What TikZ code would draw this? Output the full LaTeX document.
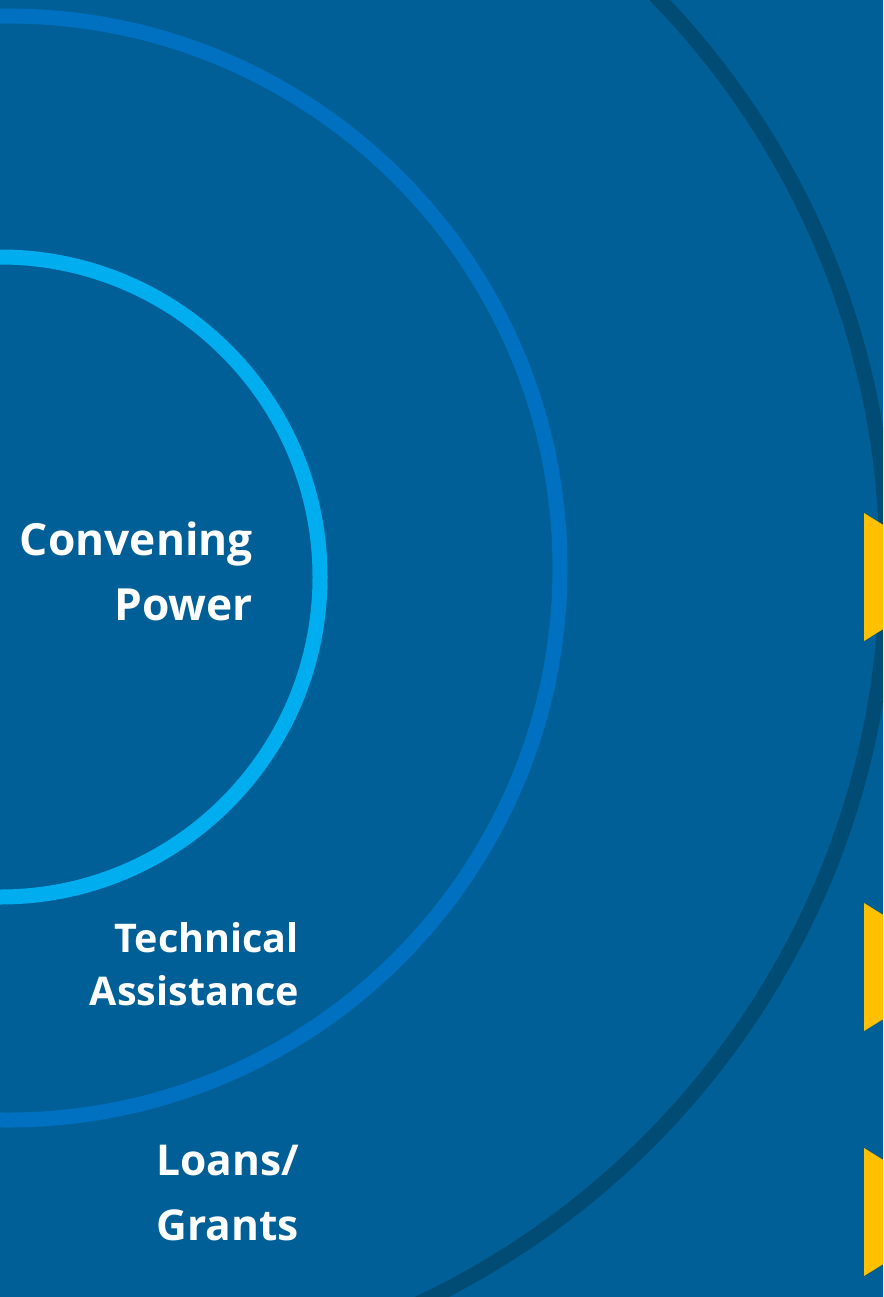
\documentclass[tikz,border=0pt]{standalone}
\usepackage{fontspec}
\setmainfont{Open Sans}
\usepackage{xcolor}
\definecolor{bgblue}{HTML}{005F96}
\definecolor{ringdark}{HTML}{004C74}
\definecolor{ringmid}{HTML}{0070C0}
\definecolor{ringlight}{HTML}{00AEEF}
\definecolor{arrowyellow}{HTML}{FFC000}
\tikzset{
    ringlabel/.style={text=white, align=right, inner sep=0pt, anchor=base east}
}
\begin{document}
\begin{tikzpicture}[x=1pt,y=-1pt]
    \useasboundingbox (0,0) rectangle (883,1297);
    \fill[bgblue] (0,0) rectangle (883,1297);
    \clip (0,0) rectangle (883,1297);
    % rings
    \draw[ringdark,line width=15pt] (71,565) circle (816pt);
    \draw[ringmid,line width=15pt] (8,568) circle (552pt);
    \draw[ringlight,line width=15pt] (0,577) circle (320pt);
    % yellow arrows at the edge
    \foreach \ytop in {513,903,1148}
        \fill[arrowyellow] (864,\ytop) -- (864,\ytop+128) -- (967,\ytop+64) -- cycle;
    % labels (base anchor sits on the last line)
    \node[ringlabel,font=\bfseries\fontsize{44.3}{65}\selectfont] (convening) at (253,620) {Convening\\Power};
    \node[ringlabel,font=\bfseries\fontsize{39.5}{53}\selectfont] (technical) at (299,1005) {Technical\\Assistance};
    \node[ringlabel,font=\bfseries\fontsize{42.5}{65}\selectfont] (loans) at (299,1240) {Loans/\\Grants};
\end{tikzpicture}
\end{document}
